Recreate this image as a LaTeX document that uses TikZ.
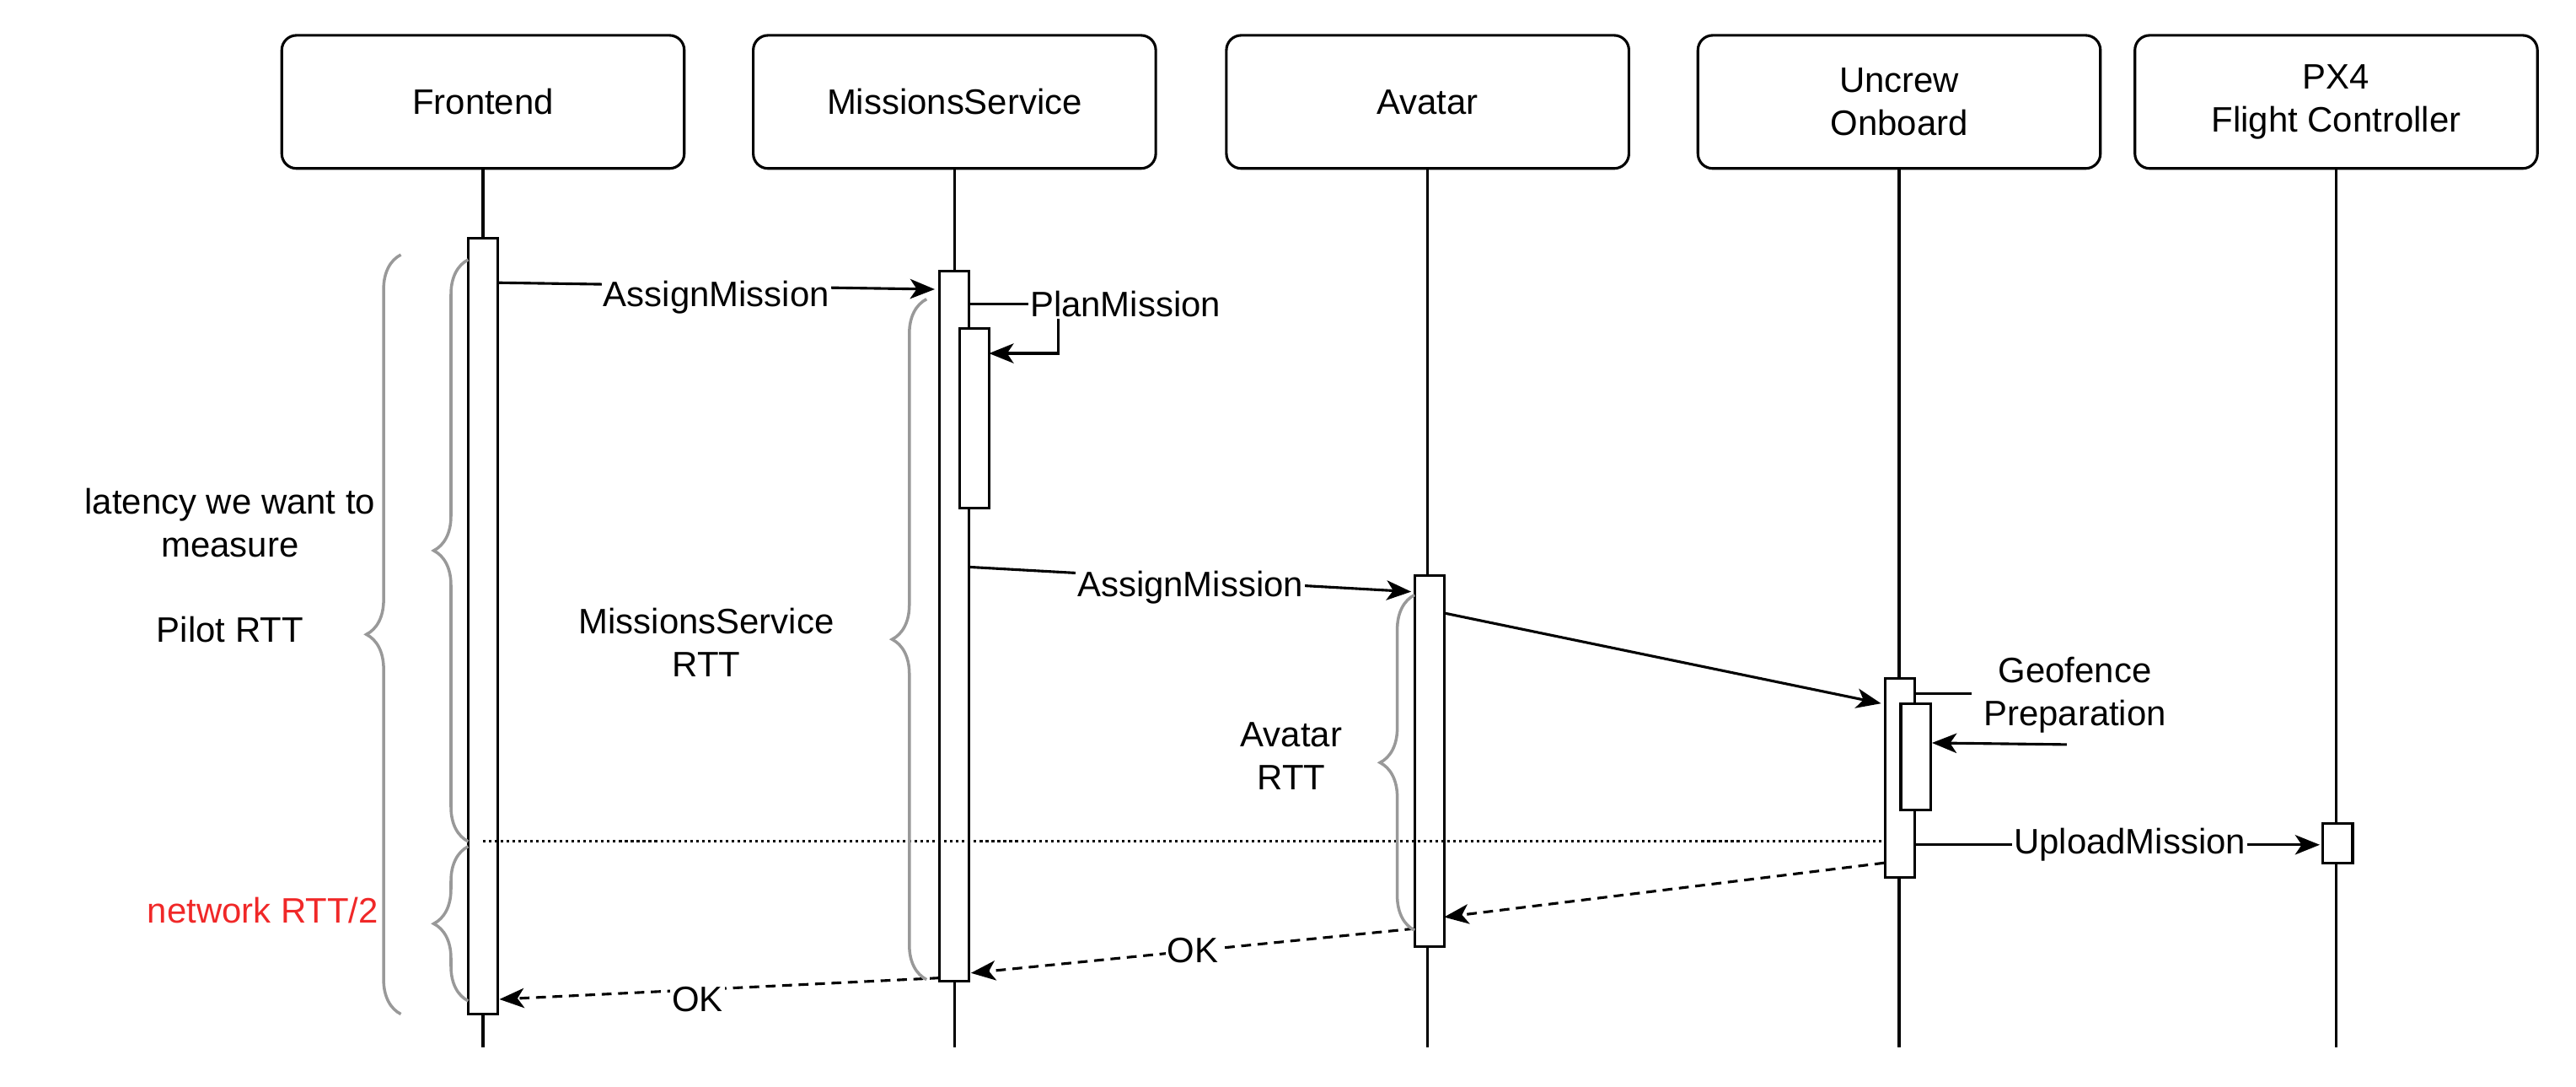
\documentclass[tikz,border=0pt]{standalone}
\usepackage{fontspec}
\setmainfont{Liberation Sans}
\usetikzlibrary{decorations.pathreplacing,arrows.meta}
\tikzset{every picture/.style={line width=1.6pt}}
\tikzset{
  head/.style={draw,rounded corners=9pt,minimum width=245pt,minimum height=81pt,align=center,inner sep=0pt},
  bar/.style={draw,fill=white,minimum width=18pt,inner sep=0pt},
  msg/.style={-{Stealth[length=15pt,width=12pt,inset=4pt]}},
  ret/.style={msg,dash pattern=on 6pt off 4pt},
  lbl/.style={fill=white,inner sep=1pt},
  gbrace/.style={draw=gray!80,line width=1.8pt,decorate,decoration={brace,amplitude=21pt,aspect=0.5}},
}
\begin{document}
\begin{tikzpicture}[x=1pt,y=1pt,yscale=-1,xscale=1,font=\fontsize{21.5}{26}\selectfont]
\useasboundingbox (0,0) rectangle (1568,661);

%Shape: Headers
\node[head] (fe) at (294,62) {Frontend};
\node[head] (ms) at (581,62) {MissionsService};
\node[head] (av) at (869,62) {Avatar};
\node[head] (uo) at (1156,62) {Uncrew\\Onboard};
\node[head] (px) at (1422,62) {PX4\\Flight Controller};

%Lifelines
\coordinate (feE) at (294,637);
\coordinate (msE) at (581,637);
\coordinate (avE) at (869,637);
\coordinate (uoE) at (1156,637);
\coordinate (pxE) at (1422,637);
\draw (fe) -- (feE);
\draw (ms) -- (msE);
\draw (av) -- (avE);
\draw (uo) -- (uoE);
\draw (px) -- (pxE);

%Shape: Activations
\node[bar,minimum height=472pt] (feA) at (294,381) {};
\node[bar,minimum height=432pt] (msA) at (581,381) {};
\node[bar,minimum height=109pt] (msP) at (593,254.5) {};
\node[bar,minimum height=226pt] (avA) at (870,463) {};
\node[bar,minimum height=121pt] (uoA) at (1156.5,473.5) {};
\node[bar,minimum height=65pt] (uoG) at (1166,460.5) {};
\node[bar,minimum height=24pt] (pxA) at (1423,513) {};

%Dotted line
\coordinate (dotL) at (294,512);
\coordinate (dotR) at (1147,512);
\draw[dotted] (dotL) -- (dotR);

%Messages
\coordinate (a1) at (303,172); \coordinate (a1e) at (569,176);
\draw[msg] (a1) -- node[lbl,pos=0.5,yshift=-7pt] {AssignMission} (a1e);
\coordinate (p1) at (590,185); \coordinate (p2) at (644,185); \coordinate (p3) at (644,215); \coordinate (p4) at (602,215);
\draw[msg] (p1) -- (p2) -- (p3) -- (p4);
\node[lbl] (planL) at (685,185) {PlanMission};
\coordinate (a2) at (590,345); \coordinate (a2e) at (859,360);
\draw[msg] (a2) -- node[lbl,pos=0.5,yshift=-5pt] {AssignMission} (a2e);
\coordinate (a3) at (879,373); \coordinate (a3e) at (1145,428);
\draw[msg] (a3) -- (a3e);
\coordinate (g1) at (1166,422); \coordinate (g2) at (1200,422);
\draw (g1) -- (g2);
\node[align=center] (geoL) at (1263,423) {Geofence\\Preparation};
\coordinate (g3) at (1258,453); \coordinate (g4) at (1176,452);
\draw[msg] (g3) -- (g4);
\coordinate (u1) at (1166,514); \coordinate (u1e) at (1412,514);
\draw[msg] (u1) -- node[lbl,pos=0.53] {UploadMission} (u1e);

%Returns
\coordinate (r1) at (1147,525); \coordinate (r1e) at (879,558);
\draw[ret] (r1) -- (r1e);
\coordinate (r2) at (861,565); \coordinate (r2e) at (591,592);
\draw[ret] (r2) -- node[lbl,pos=0.5] {OK} (r2e);
\coordinate (r3) at (572,595); \coordinate (r3e) at (304,608);
\draw[ret] (r3) -- node[lbl,pos=0.55,yshift=-6pt] {OK} (r3e);

%Braces
\draw[gbrace] (244,617) -- (244,155);
\draw[gbrace] (285,512) -- (285,158);
\draw[gbrace] (285,609) -- (285,515);
\draw[gbrace] (564,596) -- (564,182);
\draw[gbrace] (861,566) -- (861,362);

% Text Node
\node[align=center] (latL) at (140,318) {latency we want to\\measure};
\node (pilL) at (140,383) {Pilot RTT};
\node[text={rgb,255:red,240;green,40;blue,40}] (netL) at (160,554) {network RTT/2};
\node[align=center] (msL) at (430,391) {MissionsService\\RTT};
\node[align=center] (avL) at (786,460) {Avatar\\RTT};
\end{tikzpicture}
\end{document}
